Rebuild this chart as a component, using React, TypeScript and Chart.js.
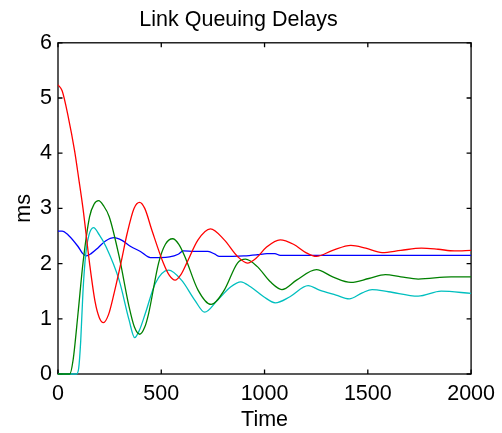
import React, { useEffect, useRef } from "react";
import { Chart, registerables } from "chart.js";

Chart.register(...registerables);

const chartTitle = "Link Queuing Delays";
const xTitle = "Time";
const yTitle = "ms";
const xTicks = [0, 500, 1000, 1500, 2000];
const yTicks = [0, 1, 2, 3, 4, 5, 6];

const timeRed = [0, 20, 50, 80, 100, 121, 153, 180, 200, 220, 245, 272, 304, 335, 368, 395, 420, 455, 511, 540, 567, 595, 622, 678, 738, 805, 869, 917, 960, 1010, 1076, 1140, 1200, 1251, 1330, 1418, 1490, 1569, 1660, 1760, 1840, 1919, 2000];
const delayRed = [5.24, 5.13, 4.65, 4.05, 3.55, 3.0, 2.0, 1.3, 1.02, 0.93, 1.08, 1.47, 2.0, 2.55, 3.0, 3.11, 3.0, 2.6, 2.0, 1.78, 1.7, 1.8, 2.0, 2.43, 2.63, 2.43, 2.13, 2.01, 2.1, 2.3, 2.43, 2.35, 2.2, 2.13, 2.24, 2.33, 2.28, 2.2, 2.24, 2.28, 2.26, 2.23, 2.24];

const timeGreen = [0, 57, 73, 97, 121, 153, 175, 197, 220, 248, 296, 344, 370, 396, 420, 439, 487, 520, 555, 585, 614, 678, 741, 805, 869, 908, 964, 1028, 1084, 1155, 1251, 1330, 1418, 1505, 1585, 1660, 1744, 1903, 2000];
const delayGreen = [0, 0, 0.25, 1.1, 2.01, 2.85, 3.08, 3.14, 3.05, 2.85, 2.13, 1.22, 0.85, 0.72, 0.85, 1.1, 2.01, 2.35, 2.45, 2.35, 2.13, 1.52, 1.26, 1.52, 2.01, 2.08, 1.95, 1.67, 1.53, 1.7, 1.89, 1.76, 1.66, 1.73, 1.8, 1.76, 1.72, 1.76, 1.76];

const timeCyan = [0, 89, 100, 110, 121, 135, 150, 172, 200, 232, 296, 344, 371, 395, 423, 471, 535, 598, 662, 710, 773, 837, 885, 932, 996, 1052, 1123, 1211, 1266, 1346, 1410, 1473, 1521, 1601, 1744, 1855, 2000];
const delayCyan = [0, 0, 0.1, 0.6, 1.5, 2.2, 2.52, 2.65, 2.52, 2.31, 1.7, 0.98, 0.66, 0.8, 1.1, 1.64, 1.88, 1.7, 1.34, 1.12, 1.34, 1.58, 1.67, 1.58, 1.4, 1.29, 1.4, 1.6, 1.52, 1.43, 1.36, 1.47, 1.53, 1.49, 1.41, 1.5, 1.46];

const timeBlue = [0, 20, 49, 97, 120, 137, 160, 192, 230, 272, 310, 352, 399, 447, 495, 540, 582, 606, 660, 726, 760, 781, 900, 964, 1012, 1050, 1076, 1500, 2000];
const delayBlue = [2.59, 2.59, 2.52, 2.31, 2.18, 2.14, 2.18, 2.28, 2.41, 2.47, 2.42, 2.31, 2.22, 2.11, 2.11, 2.12, 2.17, 2.23, 2.22, 2.22, 2.17, 2.13, 2.14, 2.16, 2.18, 2.18, 2.15, 2.15, 2.15];

const FONT = "'Liberation Sans', Arial, Helvetica, sans-serif";
const FSIZE = 21.5;

const toPoints = (t: number[], v: number[]) => t.map((x, i) => ({ x, y: v[i] }));

export default function App() {
  const ref = useRef<HTMLCanvasElement>(null);

  useEffect(() => {
    if (!ref.current) return;
    const framePlugin = {
      id: "frame",
      beforeDatasetsDraw(chart: any) {
        const { ctx, chartArea, scales } = chart;
        const { left, right, top, bottom } = chartArea;
        const xs = scales.x;
        const ys = scales.y;
        const L = 4.5;
        ctx.save();
        ctx.strokeStyle = "#000";
        ctx.lineWidth = 1.3;
        ctx.strokeRect(left, top, right - left, bottom - top);
        ctx.beginPath();
        xTicks.forEach((v) => {
          const px = xs.getPixelForValue(v);
          ctx.moveTo(px, bottom);
          ctx.lineTo(px, bottom - L);
          ctx.moveTo(px, top);
          ctx.lineTo(px, top + L);
        });
        yTicks.forEach((v) => {
          const py = ys.getPixelForValue(v);
          ctx.moveTo(left, py);
          ctx.lineTo(left + L, py);
          ctx.moveTo(right, py);
          ctx.lineTo(right - L, py);
        });
        ctx.stroke();
        ctx.restore();
      },
    };

    const mk = (label: string, t: number[], v: number[], color: string) => ({
      label,
      data: toPoints(t, v),
      borderColor: color,
      backgroundColor: color,
      borderWidth: 1.3,
      pointRadius: 0,
      fill: false,
      clip: 3,
      cubicInterpolationMode: "monotone" as const,
    });

    const chart = new Chart(ref.current, {
      type: "line",
      data: {
        datasets: [
          mk("Link 1", timeRed, delayRed, "#ff0000"),
          mk("Link 2", timeGreen, delayGreen, "#008000"),
          mk("Link 3", timeCyan, delayCyan, "#00bfbf"),
          mk("Link 4", timeBlue, delayBlue, "#0000ff"),
        ],
      },
      options: {
        animation: false,
        responsive: false,
        layout: { padding: { left: 0, right: 25, top: 0, bottom: 0 } },
        plugins: {
          legend: { display: false },
          tooltip: { enabled: false },
          title: {
            display: true,
            text: chartTitle,
            color: "#000",
            font: { family: FONT, size: FSIZE, weight: "normal" },
            padding: { top: 7, bottom: 10 },
          },
        },
        scales: {
          x: {
            type: "linear",
            min: 0,
            max: 2000,
            afterBuildTicks: (s: any) => {
              s.ticks = xTicks.map((value) => ({ value }));
            },
            afterFit: (s: any) => {
              s.height = 59;
            },
            ticks: {
              color: "#000",
              font: { family: FONT, size: FSIZE },
              padding: 7,
              maxRotation: 0,
              autoSkip: false,
              callback: (v: any) => String(v),
            },
            grid: { display: false, drawTicks: false },
            border: { display: false },
            title: {
              display: true,
              text: xTitle,
              color: "#000",
              font: { family: FONT, size: FSIZE },
              padding: { top: 0.5, bottom: 0 },
            },
          },
          y: {
            type: "linear",
            min: 0,
            max: 6,
            afterBuildTicks: (s: any) => {
              s.ticks = yTicks.map((value) => ({ value }));
            },
            afterFit: (s: any) => {
              s.width = 58;
            },
            ticks: {
              color: "#000",
              font: { family: FONT, size: FSIZE },
              padding: 6,
              autoSkip: false,
              callback: (v: any) => String(v),
            },
            grid: { display: false, drawTicks: false },
            border: { display: false },
            title: {
              display: true,
              text: yTitle,
              color: "#000",
              font: { family: FONT, size: FSIZE },
              padding: { top: 11, bottom: 0 },
            },
          },
        },
      },
      plugins: [framePlugin],
    });
    return () => chart.destroy();
  }, []);

  return (
    <div style={{ position: "fixed", left: 0, top: 0, width: 502, height: 433, background: "#fff" }}>
      <canvas ref={ref} width={502} height={433} style={{ display: "block" }} />
    </div>
  );
}
